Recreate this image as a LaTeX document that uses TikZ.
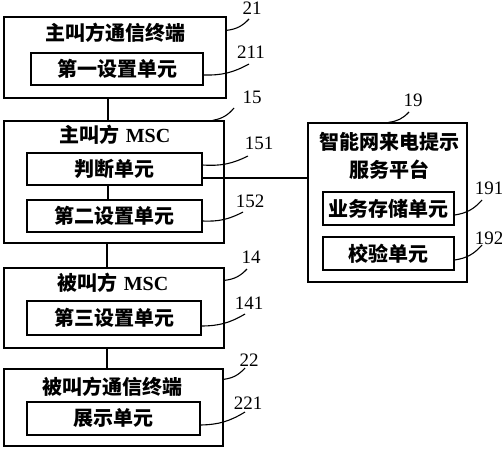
\documentclass[tikz,border=0pt]{standalone}
\usepackage{fontspec}
\setmainfont{Liberation Serif}
\newfontfamily\cjk{Noto Sans CJK SC}

\begin{document}
\begin{tikzpicture}[x=1pt,y=-1pt,line width=1.3pt,
  box/.style={draw,inner sep=0pt},
  unit/.style={draw,inner sep=0pt,font=\cjk\bfseries\fontsize{20}{24}\selectfont},
  title/.style={inner sep=0pt,font=\cjk\bfseries\fontsize{20}{24}\selectfont},
  num/.style={inner sep=0pt,font=\fontsize{19}{22}\selectfont},
  lead/.style={line width=1.1pt}]
  \useasboundingbox (0,0) rectangle (502,450);
  % calling terminal
  \node[box,minimum width=222,minimum height=81] (b21) at (115,57.5) {};
  \node[title] (t21) at (115,33) {主叫方通信终端};
  \node[unit,minimum width=172,minimum height=32] (u211) at (117,69) {第一设置单元};
  % calling MSC
  \node[box,minimum width=220,minimum height=122] (b15) at (114,182) {};
  \node[title] (t15) at (115,135) {主叫方\hspace{6pt}{\rmfamily\bfseries MSC}};
  \node[unit,minimum width=175,minimum height=32] (u151) at (114.5,169) {判断单元};
  \node[unit,minimum width=175,minimum height=32] (u152) at (114.5,216) {第二设置单元};
  % called MSC
  \node[box,minimum width=220,minimum height=80] (b14) at (114,308) {};
  \node[title] (t14) at (113,283) {被叫方\hspace{6pt}{\rmfamily\bfseries MSC}};
  \node[unit,minimum width=174,minimum height=34] (u141) at (114,318) {第三设置单元};
  % called terminal
  \node[box,minimum width=219,minimum height=77] (b22) at (113.5,407.5) {};
  \node[title] (t22) at (112,387) {被叫方通信终端};
  \node[unit,minimum width=173,minimum height=33] (u221) at (113.5,418.5) {展示单元};
  % platform
  \node[box,minimum width=159,minimum height=159] (b19) at (387.5,202.5) {};
  \node[title] (t19a) at (389,142) {智能网来电提示};
  \node[title] (t19b) at (389,170) {服务平台};
  \node[unit,minimum width=131,minimum height=33] (u191) at (388.5,208.5) {业务存储单元};
  \node[unit,minimum width=131,minimum height=33] (u192) at (388.5,253.5) {校验单元};

  % connections
  \draw ([xshift=-7]b21.south) -- ([xshift=-7]b21.south |- b15.north);
  \draw ([xshift=-6.5]u151.south) -- ([xshift=-6.5]u151.south |- u152.north);
  \draw ([xshift=-7]b15.south) -- ([xshift=-7]b15.south |- b14.north);
  \draw ([xshift=-7]b14.south) -- ([xshift=-7]b14.south |- b22.north);
  \draw ([yshift=-9]u151.east) -- ([yshift=-9]u151.east -| b19.west);

  % reference numbers
  \node[num] (n21) at (252,8.5) {21};
  \node[num] (n211) at (251,52) {211};
  \node[num] (n15) at (252,97) {15};
  \node[num] (n151) at (259,143) {151};
  \node[num] (n152) at (250,201) {152};
  \node[num] (n14) at (251,257) {14};
  \node[num] (n141) at (249,303) {141};
  \node[num] (n22) at (249,360) {22};
  \node[num] (n221) at (248,403) {221};
  \node[num] (n19) at (413,100) {19};
  \node[num] (n191) at (489,188) {191};
  \node[num] (n192) at (489,238) {192};
  \coordinate (e21) at (249,19);
  \coordinate (e211) at (249,64);
  \coordinate (e15) at (234,108);
  \coordinate (e151) at (248,156);
  \coordinate (e152) at (243,212);
  \coordinate (e14) at (247,269);
  \coordinate (e141) at (245,314);
  \coordinate (e22) at (245,368);
  \coordinate (e221) at (245,412);
  \coordinate (e19) at (409,112);
  \coordinate (e191) at (482,200);
  \coordinate (e192) at (482,245);
  \draw[lead] ([yshift=-14]b21.north east) to[bend right=20] (e21);
  \draw[lead] ([yshift=-6]u211.east) to[bend right=15] (e211);
  \draw[lead] ([xshift=-12]b15.north east) to[bend right=20] (e15);
  \draw[lead] ([yshift=4]u151.east) to[bend right=15] (e151);
  \draw[lead] ([yshift=-5]u152.east) to[bend right=15] (e152);
  \draw[lead] ([yshift=-13]b14.north east) to[bend right=20] (e14);
  \draw[lead] ([yshift=-8]u141.east) to[bend right=15] (e141);
  \draw[lead] ([yshift=-11]b22.north east) to[bend right=20] (e22);
  \draw[lead] ([yshift=-6.5]u221.east) to[bend right=15] (e221);
  \draw[lead] ([xshift=1]b19.north) to[bend right=20] (e19);
  \draw[lead] ([yshift=-6.5]u191.east) to[bend right=20] (e191);
  \draw[lead] ([yshift=-6.5]u192.east) to[bend right=20] (e192);
\end{tikzpicture}
\end{document}
